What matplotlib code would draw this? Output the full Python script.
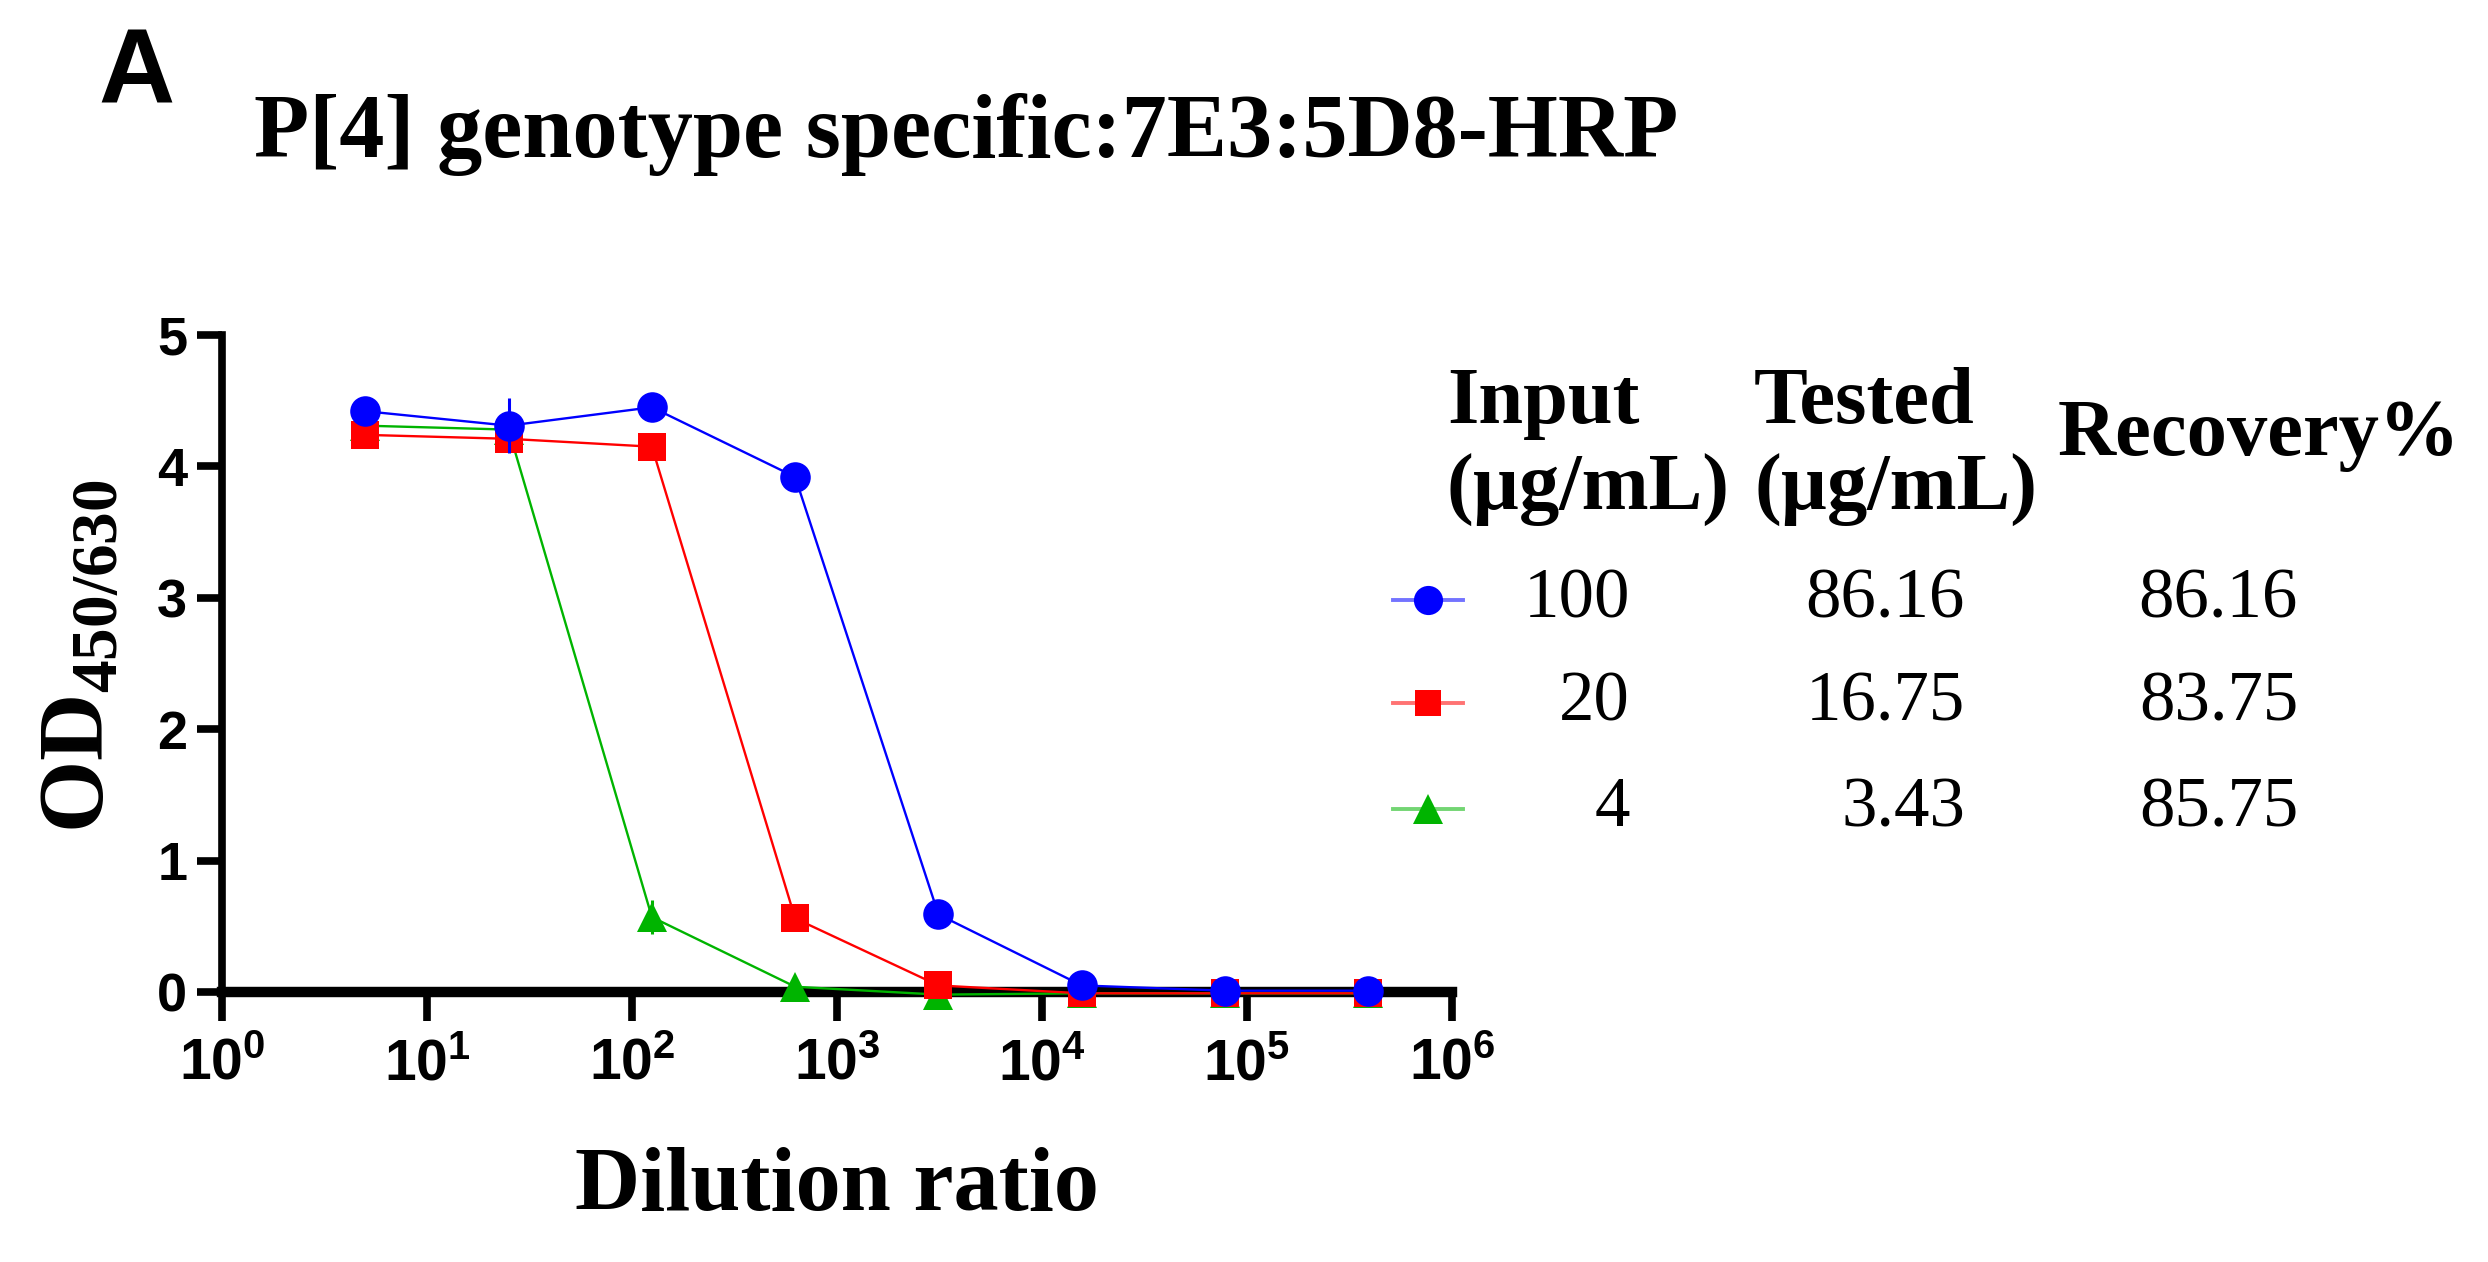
import matplotlib
matplotlib.use("Agg")
import matplotlib.pyplot as plt
from matplotlib import font_manager
from matplotlib.lines import Line2D
import numpy as np

# ---------------- data ----------------
dilution = [5, 25, 125, 625, 3125, 15625, 78125, 390625]
od_100 = [4.42, 4.31, 4.45, 3.92, 0.59, 0.05, 0.01, 0.01]
err_100 = [0.0, 0.21, 0.0, 0.0, 0.0, 0.0, 0.0, 0.0]
od_20 = [4.24, 4.21, 4.15, 0.56, 0.05, -0.01, -0.01, -0.01]
err_20 = [0.0, 0.0, 0.0, 0.0, 0.0, 0.0, 0.0, 0.0]
od_4 = [4.31, 4.28, 0.57, 0.04, -0.02, -0.01, -0.01, -0.01]
err_4 = [0.0, 0.0, 0.13, 0.0, 0.0, 0.0, 0.0, 0.0]

input_labels = ["100", "20", "4"]
tested_labels = ["86.16", "16.75", "3.43"]
recovery_labels = ["86.16", "83.75", "85.75"]
header_input = "Input\n(µg/mL)"
header_tested = "Tested\n(µg/mL)"
header_recovery = "Recovery%"
title_text = "P[4] genotype specific:7E3:5D8-HRP"
panel_letter = "A"
xlabel_text = "Dilution ratio"

# ---------------- fonts ----------------
names = {f.name for f in font_manager.fontManager.ttflist}
sans_narrow = "Liberation Sans Narrow" if "Liberation Sans Narrow" in names else "Liberation Sans"
serif = "Liberation Serif"

plt.rcParams["mathtext.fontset"] = "custom"
plt.rcParams["mathtext.rm"] = f"{sans_narrow}:bold"
plt.rcParams["mathtext.bf"] = f"{serif}:bold"
plt.rcParams["mathtext.it"] = f"{sans_narrow}:bold"
plt.rcParams["mathtext.sf"] = f"{sans_narrow}:bold"

W, H = 2488, 1262
fig = plt.figure(figsize=(W / 100, H / 100), dpi=100)
ax = fig.add_axes([222 / W, 1 - 992 / H, (1452 - 222) / W, (992 - 335) / H])

series = [
    (od_4, err_4, "#00B400", "^", 22),
    (od_20, err_20, "#FF0000", "s", 20),
    (od_100, err_100, "#0000FF", "o", 22),
]
for i, (vals, errs, col, mk, ms) in enumerate(series):
    ax.errorbar(dilution, vals, yerr=errs, color=col, marker=mk, markersize=ms,
                linewidth=1.7, elinewidth=2.2, capsize=11, capthick=2.2,
                markeredgewidth=0, clip_on=False, zorder=5 + i)

ax.set_xscale("log")
ax.set_xlim(1, 1e6)
ax.set_ylim(0, 5)
ax.set_xticks([10 ** k for k in range(7)])
ax.set_xticklabels([f"$\\mathdefault{{10^{{{k}}}}}$" for k in range(7)])
ax.xaxis.set_minor_locator(matplotlib.ticker.NullLocator())
ax.set_yticks([0, 1, 2, 3, 4, 5])
ax.set_yticklabels([str(v) for v in range(6)])

for s in ["top", "right"]:
    ax.spines[s].set_visible(False)
ax.spines["left"].set_linewidth(5.5)
ax.spines["bottom"].set_linewidth(7.5)
ax.spines["bottom"].set_zorder(4)
ax.tick_params(axis="x", length=21, width=5.5, pad=12, direction="out")
ax.tick_params(axis="y", length=18, width=5.5, pad=7, direction="out")
for lab in ax.get_xticklabels():
    lab.set_fontfamily(sans_narrow)
    lab.set_fontweight("bold")
    lab.set_fontsize(41)
for lab in ax.get_yticklabels():
    lab.set_fontfamily(sans_narrow)
    lab.set_fontweight("bold")
    lab.set_fontsize(39)

ax.set_xlabel(xlabel_text, fontfamily=serif, fontweight="bold", fontsize=65, labelpad=40)
ax.set_ylabel("$\\mathbf{OD}_{\\mathbf{450/630}}$", fontsize=67)
ax.yaxis.set_label_coords((122 - 222) / 1230, 0.511)

fig.text(98 / W, 1 - 76 / H, panel_letter, fontfamily="Liberation Sans", fontweight="bold",
         fontsize=76, ha="left", va="center")
fig.text(254 / W, 1 - 134 / H, title_text, fontfamily=serif, fontweight="bold",
         fontsize=65, ha="left", va="center")

# ---------------- legend table ----------------
hdr_kw = dict(fontfamily=serif, fontweight="bold", fontsize=58, va="center", ha="left",
              linespacing=1.25)
fig.text(1447 / W, 1 - 447 / H, header_input, **hdr_kw)
fig.text(1754 / W, 1 - 447 / H, header_tested, **hdr_kw)
fig.text(2058 / W, 1 - 435 / H, header_recovery, **hdr_kw)

row_y = [600, 703, 809]
val_kw = dict(fontfamily=serif, fontsize=51, va="center", ha="right")
for i, (vals, errs, col, mk, ms) in enumerate(series[::-1]):
    y = 1 - row_y[i] / H
    fig.add_artist(Line2D([1393 / W, 1463 / W], [y, y], color=col, alpha=0.55,
                          linewidth=2.8, transform=fig.transFigure))
    fig.add_artist(Line2D([1428 / W], [y], color=col, marker=mk, markersize=ms - 1,
                          markeredgewidth=0, linestyle="none", transform=fig.transFigure))
    fig.text(1630 / W, y, input_labels[i], **val_kw)
    fig.text(1965 / W, y, tested_labels[i], **val_kw)
    fig.text(2298 / W, y, recovery_labels[i], **val_kw)

fig.savefig("out.png", dpi=100)
